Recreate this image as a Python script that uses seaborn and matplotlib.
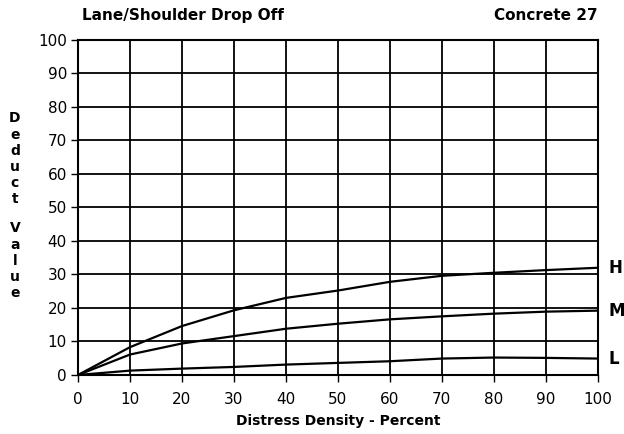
import matplotlib
matplotlib.use('Agg')
import matplotlib.pyplot as plt
import seaborn as sns
import pandas as pd

# Values
density = [0, 10, 20, 30, 40, 50, 60, 70, 80, 90, 100]
high = [0, 8.3, 14.6, 19.3, 23.0, 25.2, 27.8, 29.6, 30.5, 31.3, 32.0]
medium = [0, 6.1, 9.4, 11.6, 13.8, 15.3, 16.6, 17.5, 18.3, 18.9, 19.2]
low = [0, 1.3, 1.9, 2.4, 3.1, 3.6, 4.1, 4.9, 5.2, 5.1, 4.9]
severity = ['H', 'M', 'L']

df = pd.DataFrame({'density': density * 3,
                   'value': high + medium + low,
                   'severity': ['H'] * 11 + ['M'] * 11 + ['L'] * 11})

sns.set_style('white')
plt.rcParams['font.family'] = ['DejaVu Sans']
plt.rcParams['text.color'] = 'black'
plt.rcParams['xtick.color'] = 'black'
plt.rcParams['ytick.color'] = 'black'
plt.rcParams['axes.labelcolor'] = 'black'

fig = plt.figure(figsize=(6.24, 4.34), dpi=100)
ax = fig.add_axes([0.125, 0.136, 0.833, 0.772])

sns.lineplot(data=df, x='density', y='value', units='severity', estimator=None,
             color='black', linewidth=1.6, ax=ax)

ax.set_xlim(0, 100)
ax.set_ylim(0, 100)
ax.set_xticks(range(0, 101, 10))
ax.set_yticks(range(0, 101, 10))
ax.grid(True, color='black', linewidth=1.3)
for s in ax.spines.values():
    s.set_color('black')
    s.set_linewidth(1.5)
ax.tick_params(axis='both', length=5, width=1, color='black', direction='out',
               bottom=True, left=True, labelsize=11)
ax.tick_params(axis='x', pad=7)
ax.tick_params(axis='y', pad=3)

ax.set_xlabel('Distress Density - Percent', fontsize=10, fontweight='bold', labelpad=5)
ax.set_ylabel('')

# curve labels at right end
ends = {'H': high[-1], 'M': medium[-1], 'L': low[-1]}
for s in severity:
    ax.text(102, ends[s], s, fontsize=12, fontweight='bold', va='center', ha='left',
            clip_on=False)

# vertical stacked y label
fig.text(0.024, 0.634, '\n'.join('Deduct'), fontsize=10, fontweight='bold',
         ha='center', va='center', linespacing=1.2)
fig.text(0.024, 0.399, '\n'.join('Value'), fontsize=10, fontweight='bold',
         ha='center', va='center', linespacing=1.2)

fig.text(0.131, 0.965, 'Lane/Shoulder Drop Off', fontsize=11, fontweight='bold',
         ha='left', va='center')
fig.text(0.958, 0.965, 'Concrete 27', fontsize=11, fontweight='bold',
         ha='right', va='center')

fig.savefig('out.png', dpi=100)
